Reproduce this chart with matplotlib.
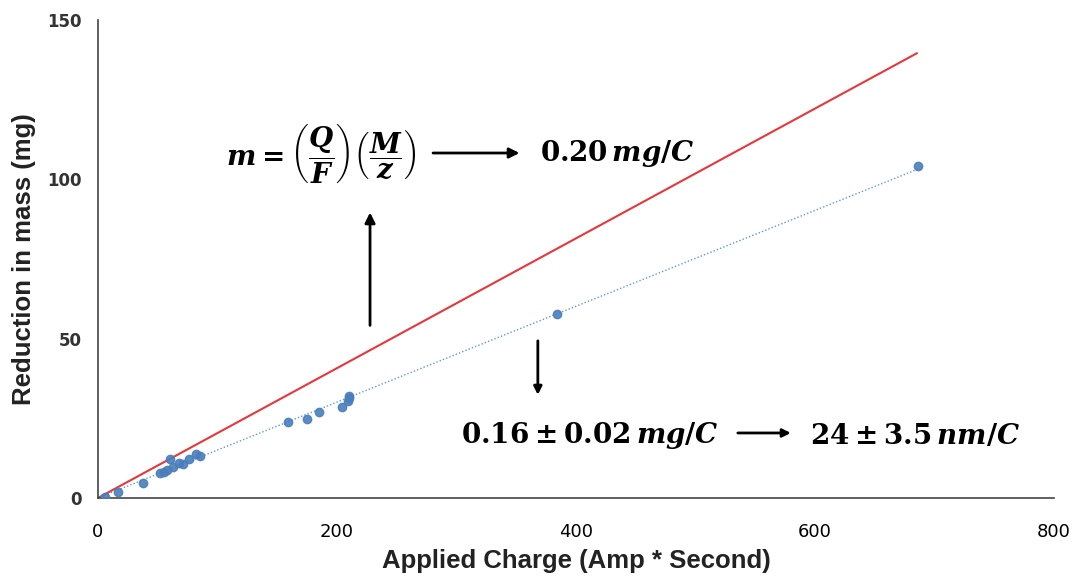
import matplotlib
matplotlib.use('Agg')
import matplotlib.pyplot as plt
import numpy as np

# measured points (charge in A*s, mass loss in mg)
charge = [6, 17, 38, 52, 55, 58, 60, 63, 68, 71, 76, 82, 85,
          159, 175, 185, 204, 209, 210, 210, 384, 686]
mass = [0.3, 2.0, 4.7, 7.8, 8.2, 8.8, 12.2, 9.7, 11.0, 10.6, 12.3, 13.8, 13.2,
        23.8, 24.8, 27.0, 28.6, 30.5, 31.4, 32.0, 57.7, 104.2]

# theoretical line (Faraday)
theory_x = [0, 685]
theory_y = [0, 139.6]

xticks = [0, 200, 400, 600, 800]
yticks = [0, 50, 100, 150]

plt.rcParams['mathtext.fontset'] = 'custom'
plt.rcParams['mathtext.it'] = 'DejaVu Serif:italic:bold'
plt.rcParams['mathtext.rm'] = 'DejaVu Serif:bold'
plt.rcParams['mathtext.bf'] = 'DejaVu Serif:bold'

fig = plt.figure(figsize=(10.78, 5.77), dpi=100)
ax = fig.add_axes([0.0909, 0.137, 0.887, 0.828])

ax.plot(theory_x, theory_y, color='#e8363a', lw=1.5, zorder=2)

fit = np.polyfit(charge, mass, 1)
fx = np.array([0, max(charge)])
ax.plot(fx, np.polyval(fit, fx), color='#5b9bd5', lw=1.0, ls=(0, (1, 1.5)), zorder=1)

ax.plot(charge, mass, 'o', color='#4a7ebb', ms=6, alpha=0.9, zorder=3)

ax.set_xlim(0, 800)
ax.set_ylim(0, 150)
ax.set_xticks(xticks)
ax.set_yticks(yticks)
ax.tick_params(axis='y', length=0, pad=12)
ax.tick_params(axis='x', length=0, pad=18)
for lab in ax.get_xticklabels():
    lab.set_fontsize(13)
    lab.set_family('Liberation Sans Narrow')
for lab in ax.get_yticklabels():
    lab.set_fontsize(12)
    lab.set_fontweight('bold')
    lab.set_color('#333333')
for s in ['top', 'right']:
    ax.spines[s].set_visible(False)
for s in ['left', 'bottom']:
    ax.spines[s].set_color('#444444')
    ax.spines[s].set_linewidth(1.2)

ax.set_xlabel('Applied Charge (Amp * Second)', fontsize=18.5, fontweight='bold',
              family='Liberation Sans', color='#222222', labelpad=6)
ax.set_ylabel('Reduction in mass (mg)', fontsize=18.5, fontweight='bold',
              family='Liberation Sans', color='#222222', labelpad=8)

# annotations
ax.text(107, 108, r'$m = \left(\dfrac{Q}{F}\right)\left(\dfrac{M}{z}\right)$',
        fontsize=20, va='center', ha='left')
ax.annotate('', xy=(355, 108.3), xytext=(278, 108.3),
            arrowprops=dict(arrowstyle='-|>', color='black', lw=2, mutation_scale=15))
ax.text(370, 108.3, r'$0.20\,mg/C$', fontsize=20, va='center', ha='left')

ax.annotate('', xy=(227.6, 90.5), xytext=(227.6, 53.3),
            arrowprops=dict(arrowstyle='-|>', color='black', lw=2, mutation_scale=15))
ax.annotate('', xy=(368, 31.5), xytext=(368, 50.2),
            arrowprops=dict(arrowstyle='-|>', color='black', lw=2, mutation_scale=12))

ax.text(304, 19.5, r'$0.16 \pm 0.02\,mg/C$', fontsize=20, va='center', ha='left')
ax.annotate('', xy=(582, 20.4), xytext=(533, 20.4),
            arrowprops=dict(arrowstyle='-|>', color='black', lw=2, mutation_scale=12))
ax.text(596, 19.5, r'$24 \pm 3.5\,nm/C$', fontsize=20, va='center', ha='left')

fig.savefig('out.png', dpi=100)
